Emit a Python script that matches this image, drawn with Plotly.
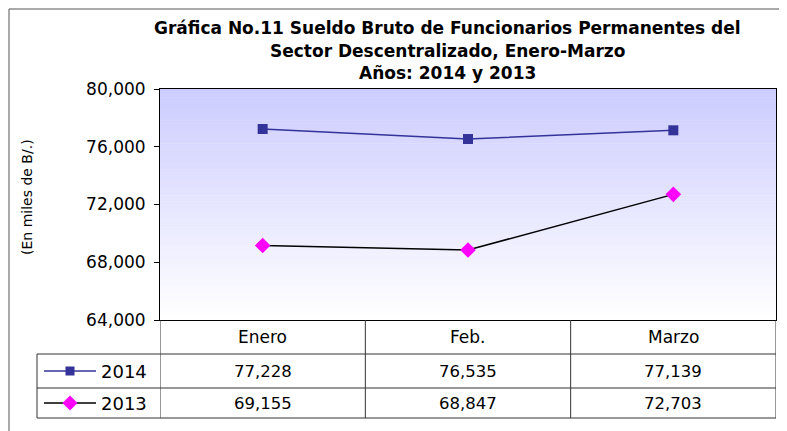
import plotly.graph_objects as go

# ---- data ----
months = ["Enero", "Feb.", "Marzo"]
series_names = ["2014", "2013"]
values_2014 = [77228, 76535, 77139]
values_2013 = [69155, 68847, 72703]
y_ticks = [64000, 68000, 72000, 76000, 80000]
title_lines = ["Gráfica No.11 Sueldo Bruto de Funcionarios Permanentes del",
               "Sector Descentralizado, Enero-Marzo",
               "Años: 2014 y 2013"]
y_title = "(En miles de B/.)"

# ---- layout geometry (page pixels; the HTML body adds an 8px offset) ----
OFF = 8
WIDTH, HEIGHT = 787 - OFF, 431 - OFF
L, R, T, B = 160 - OFF, 776 - OFF, 89 - OFF, 320 - OFF
PW, PH = R - L, B - T


def fx(px):
    return (px - OFF - L) / PW


def fy(py):
    return (B - (py - OFF)) / PH


FONT = "DejaVu Sans"
C14 = "#333399"
C13 = "#000000"
M13 = "#FF00FF"
GRID = "#333333"

fig = go.Figure()
fig.add_trace(go.Scatter(x=months, y=values_2014, name=series_names[0], mode="lines+markers",
                         line=dict(color=C14, width=1.5),
                         marker=dict(symbol="square", size=10, color=C14)))
fig.add_trace(go.Scatter(x=months, y=values_2013, name=series_names[1], mode="lines+markers",
                         line=dict(color=C13, width=1.5),
                         marker=dict(symbol="diamond", size=12, color=M13)))

shapes = []
# gradient background of plot area
n = 80
top = (204, 204, 255)
bot = (255, 255, 255)
for i in range(n):
    t = i / (n - 1)
    c = tuple(round(top[k] + (bot[k] - top[k]) * t) for k in range(3))
    shapes.append(dict(type="rect", xref="paper", yref="paper", layer="below",
                       x0=0, x1=1, y0=1 - (i + 1) / n, y1=1 - i / n + 0.002,
                       fillcolor="rgb(%d,%d,%d)" % c, line=dict(width=0)))

# outer chart border
shapes.append(dict(type="rect", xref="paper", yref="paper", x0=fx(9), x1=fx(800),
                   y0=fy(445), y1=fy(9), line=dict(color="#555555", width=1)))

# data table grid
rows = [320, 354, 388, 418]
LEG_L = 37
for yy in rows[1:]:
    shapes.append(dict(type="line", xref="paper", yref="paper", x0=fx(LEG_L), x1=1,
                       y0=fy(yy), y1=fy(yy), line=dict(color=GRID, width=1)))
shapes.append(dict(type="line", xref="paper", yref="paper", x0=fx(LEG_L), x1=fx(LEG_L),
                   y0=fy(rows[1]), y1=fy(rows[3]), line=dict(color=GRID, width=1)))
for k in range(len(months) + 1):
    shapes.append(dict(type="line", xref="x", yref="paper", x0=k - 0.5, x1=k - 0.5,
                       y0=fy(rows[0]), y1=fy(rows[3]), line=dict(color=GRID, width=1)))

# legend keys in table
for r_i, (col, mcol, sym) in enumerate([(C14, C14, "square"), (C13, M13, "diamond")]):
    cy = (rows[r_i + 1] + rows[r_i + 2]) / 2
    shapes.append(dict(type="line", xref="paper", yref="paper", x0=fx(44), x1=fx(96),
                       y0=fy(cy), y1=fy(cy), line=dict(color=col, width=1.3)))
    if sym == "square":
        shapes.append(dict(type="rect", xref="paper", yref="paper", x0=fx(65.5), x1=fx(74.5),
                           y0=fy(cy + 4.5), y1=fy(cy - 4.5), fillcolor=mcol, line=dict(width=0)))
    else:
        d = 7.5
        path = "M %f %f L %f %f L %f %f L %f %f Z" % (
            fx(70 - d), fy(cy), fx(70), fy(cy - d), fx(70 + d), fy(cy), fx(70), fy(cy + d))
        shapes.append(dict(type="path", xref="paper", yref="paper", path=path,
                           fillcolor=mcol, line=dict(width=0)))

annotations = []
# title
for i, (line, py) in enumerate(zip(title_lines, [28, 51, 73])):
    annotations.append(dict(text="<b>%s</b>" % line, xref="paper", yref="paper",
                            x=fx(447), y=fy(py), showarrow=False, xanchor="center", yanchor="middle",
                            font=dict(family=FONT, size=17, color="#000")))
# y title
annotations.append(dict(text=y_title, xref="paper", yref="paper", x=fx(27), y=fy(197),
                        textangle=-90, showarrow=False, xanchor="center", yanchor="middle",
                        font=dict(family=FONT, size=14, color="#000")))
# table header and values
for j, m in enumerate(months):
    annotations.append(dict(text=m, xref="x", yref="paper", x=m, y=fy((rows[0] + rows[1]) / 2),
                            showarrow=False, xanchor="center", yanchor="middle",
                            font=dict(family=FONT, size=17, color="#000")))
    for r_i, vals in enumerate([values_2014, values_2013]):
        annotations.append(dict(text=f"{vals[j]:,}", xref="x", yref="paper", x=m,
                                y=fy((rows[r_i + 1] + rows[r_i + 2]) / 2),
                                showarrow=False, xanchor="center", yanchor="middle",
                                font=dict(family=FONT, size=16.5, color="#000")))
for r_i, nm in enumerate(series_names):
    annotations.append(dict(text=nm, xref="paper", yref="paper", x=fx(99),
                            y=fy((rows[r_i + 1] + rows[r_i + 2]) / 2),
                            showarrow=False, xanchor="left", yanchor="middle",
                            font=dict(family=FONT, size=18, color="#000")))

fig.update_layout(
    width=WIDTH, height=HEIGHT,
    margin=dict(l=L, r=WIDTH - R, t=T, b=HEIGHT - B, pad=0),
    paper_bgcolor="white", plot_bgcolor="rgba(0,0,0,0)",
    showlegend=False,
    shapes=shapes, annotations=annotations,
    xaxis=dict(type="category", range=[-0.5, 2.5], showticklabels=False, ticks="",
               showgrid=False, zeroline=False, showline=True, linecolor="#000", linewidth=1,
               mirror=True, fixedrange=True),
    yaxis=dict(range=[64000, 80000], tickvals=y_ticks, tickformat=",", ticks="outside",
               ticklen=5, tickcolor="#000", showgrid=False, zeroline=False, showline=True,
               linecolor="#000", linewidth=1, mirror=True, ticklabelstandoff=5,
               tickfont=dict(family=FONT, size=17, color="#000"), fixedrange=True),
)

fig.write_html("out.html", config={"displayModeBar": False})
